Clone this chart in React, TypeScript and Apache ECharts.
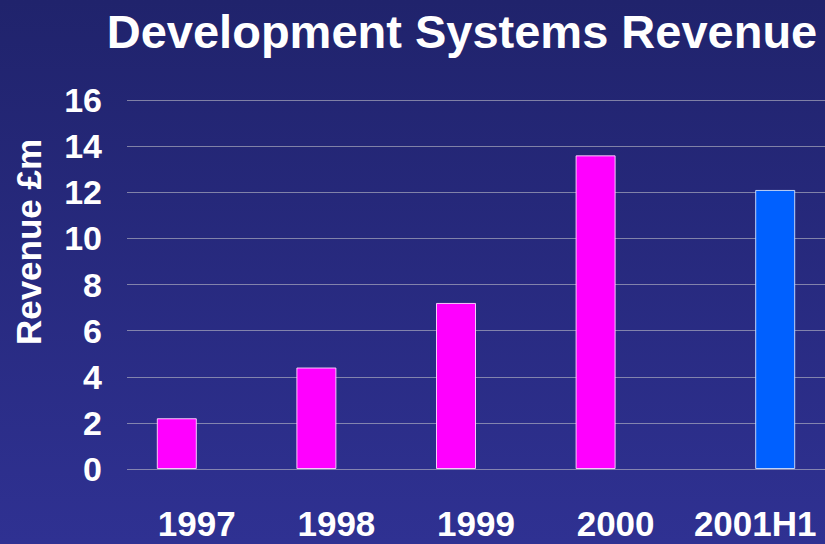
import React, { useEffect, useRef } from "react";
import * as echarts from "echarts";

const categories = ["1997", "1998", "1999", "2000", "2001H1"];
const annualRevenue = [2.2, 4.4, 7.2, 13.6, null];
const halfYearRevenue = [null, null, null, null, 12.1];
const yTicks = { min: 0, max: 16, interval: 2 };

const FONT = "'Liberation Sans', Arial, sans-serif";

export default function App() {
  const ref = useRef<HTMLDivElement>(null);
  useEffect(() => {
    if (!ref.current) return;
    const chart = echarts.init(ref.current, null, { renderer: "svg" });
    chart.setOption({
      animation: false,
      backgroundColor: "transparent",
      title: {
        text: "Development Systems Revenue",
        left: 457,
        top: 3,
        textAlign: "center",
        textStyle: { color: "#ffffff", fontFamily: FONT, fontWeight: "bold", fontSize: 47 },
      },
      graphic: [
        {
          type: "text",
          x: 28,
          y: 242,
          rotation: Math.PI / 2,
          style: {
            text: "Revenue £m",
            fill: "#ffffff",
            font: `bold 35px ${FONT}`,
            textAlign: "center",
            textVerticalAlign: "middle",
          },
        },
      ],
      grid: { left: 127, right: -4, top: 100, bottom: 75, containLabel: false },
      xAxis: {
        type: "category",
        data: categories,
        axisLine: { show: false },
        axisTick: { show: false },
        axisLabel: {
          interval: 0,
          hideOverlap: false,
          color: "#ffffff",
          fontFamily: FONT,
          fontWeight: "bold",
          fontSize: 35,
          margin: 37,
        },
      },
      yAxis: {
        type: "value",
        min: yTicks.min,
        max: yTicks.max,
        interval: yTicks.interval,
        axisLine: { show: false },
        axisTick: { show: false },
        axisLabel: { color: "#ffffff", fontFamily: FONT, fontWeight: "bold", fontSize: 34, margin: 25 },
        splitLine: { lineStyle: { color: "rgba(190,190,200,0.6)", width: 1 } },
      },
      series: [
        {
          type: "bar",
          data: annualRevenue,
          barWidth: 40,
          barGap: "0%",
          itemStyle: { color: "#ff00ff", borderColor: "rgba(255,220,255,0.9)", borderWidth: 1 },
        },
        {
          type: "bar",
          data: halfYearRevenue,
          barWidth: 40,
          barGap: "0%",
          itemStyle: { color: "#0060ff", borderColor: "rgba(210,225,255,0.9)", borderWidth: 1 },
        },
      ],
    });
    return () => chart.dispose();
  }, []);
  return (
    <div
      style={{
        position: "fixed",
        left: 0,
        top: 0,
        width: 825,
        height: 544,
        background: "linear-gradient(to bottom, #20236c 0%, #2f3192 100%)",
      }}
    >
      <div ref={ref} style={{ width: 825, height: 544 }} />
    </div>
  );
}
